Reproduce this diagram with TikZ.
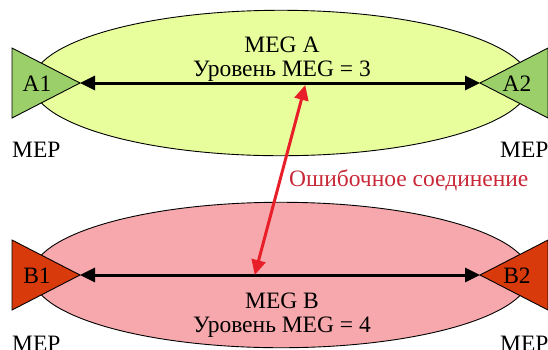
\documentclass[tikz,border=0pt]{standalone}
\usepackage{fontspec}
\setmainfont{Liberation Serif}
\newfontfamily\labelfont{Liberation Serif}
\usetikzlibrary{shapes.geometric,arrows.meta}

\definecolor{megAfill}{RGB}{232,253,156}
\definecolor{mepAfill}{RGB}{155,207,106}
\definecolor{megBfill}{RGB}{246,168,172}
\definecolor{mepBfill}{RGB}{216,58,12}
\definecolor{errtext}{RGB}{200,40,55}
\definecolor{errline}{RGB}{232,30,40}

\tikzset{
  megshape/.style={ellipse, draw=black, line width=0.9pt, minimum width=500, minimum height=146, inner sep=0pt},
  mepshape/.style={draw=black, line width=0.9pt},
  txt/.style={font=\labelfont\fontsize{23.5bp}{26bp}\selectfont, inner sep=0pt, anchor=base},
  link/.style={line width=3pt, {Triangle[length=15bp,width=14bp]}-{Triangle[length=15bp,width=14bp]}},
  errlink/.style={line width=3pt, errline, {Triangle[length=15bp,width=14bp]}-{Triangle[length=15bp,width=14bp]}, shorten <=-1pt, shorten >=-1pt},
}

\begin{document}
\begin{tikzpicture}[x=1bp, y=-1bp]
  \useasboundingbox (0,0) rectangle (548,349);

  % maintenance entity groups
  \node[megshape, fill=megAfill] (megA) at (281,83) {};
  \node[megshape, fill=megBfill] (megB) at (281,275) {};

  % end points of MEG A
  \fill[mepAfill] (12,48) -- (80,83) -- (12,118) -- cycle;
  \draw[mepshape] (12,48) -- (80,83) -- (12,118) -- cycle;
  \fill[mepAfill] (548,48) -- (480,83) -- (548,118) -- cycle;
  \draw[mepshape] (548,48) -- (480,83) -- (548,118) -- cycle;
  \coordinate (a1) at (80,83);
  \coordinate (a2) at (480,83);

  % end points of MEG B
  \fill[mepBfill] (12,240) -- (80,275) -- (12,310) -- cycle;
  \draw[mepshape] (12,240) -- (80,275) -- (12,310) -- cycle;
  \fill[mepBfill] (548,240) -- (480,275) -- (548,310) -- cycle;
  \draw[mepshape] (548,240) -- (480,275) -- (548,310) -- cycle;
  \coordinate (b1) at (80,275);
  \coordinate (b2) at (480,275);

  % labels
  \node[txt] (la1) at (37,91) {A1};
  \node[txt] (la2) at (517,91) {A2};
  \node[txt] (lb1) at (37,283) {B1};
  \node[txt] (lb2) at (517,283) {B2};

  \node[txt] (megAname) at (282,52) {MEG A};
  \node[txt] (megAlevel) at (282,76) {Уровень MEG = 3};
  \node[txt] (megBname) at (282,308) {MEG B};
  \node[txt] (megBlevel) at (282,332) {Уровень MEG = 4};

  \node[txt, anchor=base west] (mepa1) at (12,157) {MEP};
  \node[txt, anchor=base west] (mepa2) at (500,157) {MEP};
  \node[txt, anchor=base west] (mepb1) at (12,351) {MEP};
  \node[txt, anchor=base west] (mepb2) at (500,351) {MEP};

  % connections inside each MEG
  \draw[link] (a1) -- (a2);
  \draw[link] (b1) -- (b2);

  % misconnection between the groups
  \coordinate (errA) at (305,86);
  \coordinate (errB) at (255,274);
  \draw[errlink] (errB) -- (errA);
  \node[txt, anchor=base west, text=errtext] (errlabel) at (289,186) {Ошибочное соединение};
\end{tikzpicture}
\end{document}
